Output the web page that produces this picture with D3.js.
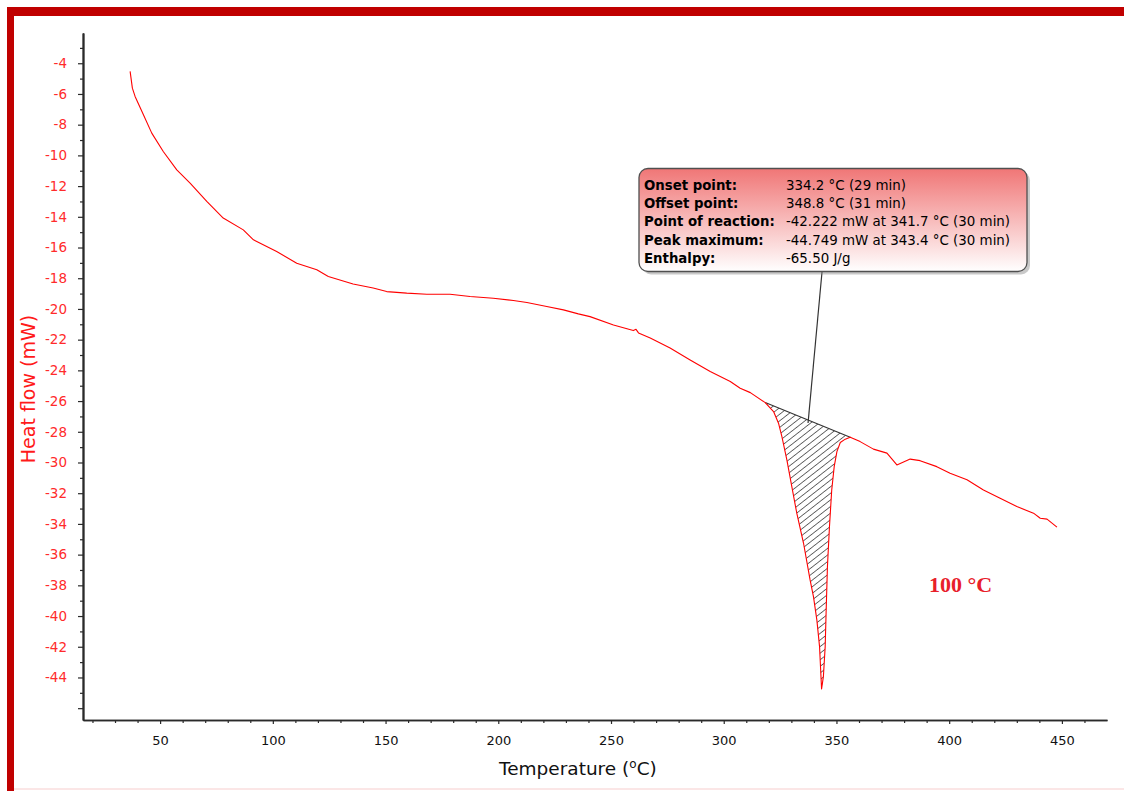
<!DOCTYPE html>
<html>
<head>
<meta charset="utf-8">
<script src="https://cdn.jsdelivr.net/npm/d3@7"></script>
<style>
  html, body { margin: 0; padding: 0; background: #ffffff; }
  svg { display: block; }
</style>
</head>
<body>
<svg id="chart" width="1124" height="791"></svg>
<script>
// ---- data ----
const temperature = [36.7, 37.7, 38.9, 42.6, 46.3, 51.4, 57.4, 63.3, 70.7, 78.0, 86.9, 91.4, 101.7, 110.6, 119.5, 124.6, 135.6, 144.5, 150.5, 159.4, 168.3, 178.6, 187.5, 197.8, 206.7, 212.7, 221.5, 228.9, 235.5, 240.7, 251.1, 259.9, 261.1, 262.2, 267.4, 276.2, 285.1, 294.0, 302.9, 307.3, 311.8, 318.4, 322.1, 324.3, 325.8, 328.0, 330.2, 332.4, 335.4, 338.3, 339.8, 341.3, 342.5, 343.4, 344.2, 345.0, 345.4, 346.0, 346.9, 347.9, 349.0, 350.2, 351.7, 353.9, 356.1, 360.5, 366.4, 372.4, 376.8, 382.7, 387.1, 394.5, 400.4, 407.9, 415.2, 422.6, 430.0, 437.4, 440.4, 443.4, 447.8];
const heatFlow = [-4.53, -5.62, -6.16, -7.36, -8.55, -9.75, -10.94, -11.80, -13.00, -14.08, -14.85, -15.50, -16.26, -17.02, -17.45, -17.89, -18.38, -18.64, -18.87, -18.97, -19.04, -19.04, -19.19, -19.30, -19.45, -19.58, -19.84, -20.06, -20.32, -20.50, -21.04, -21.41, -21.33, -21.56, -21.90, -22.55, -23.32, -24.08, -24.73, -25.16, -25.45, -26.10, -26.68, -27.44, -28.31, -29.83, -31.57, -33.30, -35.26, -37.65, -38.74, -40.25, -41.99, -44.75, -43.95, -41.99, -39.82, -36.78, -34.18, -31.79, -30.27, -29.29, -28.70, -28.48, -28.35, -28.64, -29.13, -29.39, -30.16, -29.78, -29.88, -30.27, -30.70, -31.13, -31.79, -32.33, -32.87, -33.30, -33.63, -33.69, -34.21];

// integration baseline (start / end of the peak)
const baselineT = [318.4, 356.1];
const baselineHF = [-26.10, -28.35];
const leaderT = 337.4; // where the annotation points on the baseline

const xMajorTicks = [50, 100, 150, 200, 250, 300, 350, 400, 450];
const xMinorTicks = [20, 30, 40, 60, 70, 80, 90, 110, 120, 130, 140, 160, 170, 180, 190, 210, 220, 230, 240, 260, 270, 280, 290, 310, 320, 330, 340, 360, 370, 380, 390, 410, 420, 430, 440, 460];
const yLabelTicks = [-4, -6, -8, -10, -12, -14, -16, -18, -20, -22, -24, -26, -28, -30, -32, -34, -36, -38, -40, -42, -44];
const yMajorUnlabeled = [-46];
const yMinorTicks = [-3, -5, -7, -9, -11, -13, -15, -17, -19, -21, -23, -25, -27, -29, -31, -33, -35, -37, -39, -41, -43, -45];

const xDomain = [15.8, 470];
const yDomain = [-46.77, -2.03];

const annotLabels = ["Onset point:", "Offset point:", "Point of reaction:", "Peak maximum:", "Enthalpy:"];
const annotValues = ["334.2 °C (29 min)", "348.8 °C (31 min)", "-42.222 mW at 341.7 °C (30 min)", "-44.749 mW at 343.4 °C (30 min)", "-65.50 J/g"];

const xTitle = "Temperature (";
const yTitle = "Heat flow (mW)";
const sampleLabel = "100 °C";

// ---- drawing ----
const svg = d3.select("#chart");
const FONT = "'DejaVu Sans', Verdana, sans-serif";

// frame
svg.append("rect").attr("x", 0).attr("y", 0).attr("width", 1124).attr("height", 791).attr("fill", "#ffffff");
svg.append("rect").attr("x", 14).attr("y", 788).attr("width", 1110).attr("height", 2).attr("fill", "#fbe6e6");
svg.append("rect").attr("x", 7).attr("y", 7).attr("width", 1117).attr("height", 9).attr("fill", "#c00000");
svg.append("rect").attr("x", 7).attr("y", 7).attr("width", 7).attr("height", 784).attr("fill", "#c00000");

const x = d3.scaleLinear().domain(xDomain).range([83, 1107]);
const y = d3.scaleLinear().domain(yDomain).range([720, 33]);

const data = temperature.map((t, i) => ({ t, v: heatFlow[i] }));

// hatch pattern
const defs = svg.append("defs");
const pat = defs.append("pattern")
  .attr("id", "hatch").attr("patternUnits", "userSpaceOnUse")
  .attr("width", 5.2).attr("height", 10)
  .attr("patternTransform", "rotate(52)");
pat.append("line").attr("x1", 0).attr("y1", 0).attr("x2", 0).attr("y2", 10)
  .attr("stroke", "#111").attr("stroke-width", 1.2);

const grad = defs.append("linearGradient").attr("id", "boxgrad")
  .attr("x1", 0).attr("y1", 0).attr("x2", 0).attr("y2", 1);
grad.append("stop").attr("offset", "0%").attr("stop-color", "#f07676");
grad.append("stop").attr("offset", "100%").attr("stop-color", "#ffffff");

// peak area polygon: curve points between baseline ends, closed by baseline
const peakPts = data.filter(d => d.t >= baselineT[0] && d.t <= baselineT[1]);
const areaPts = peakPts.concat([{ t: baselineT[1], v: baselineHF[1] }, { t: baselineT[0], v: baselineHF[0] }]);
svg.append("path")
  .attr("d", d3.line().x(d => x(d.t)).y(d => y(d.v))(areaPts) + "Z")
  .attr("fill", "url(#hatch)").attr("stroke", "none");

// baseline
svg.append("line")
  .attr("x1", x(baselineT[0])).attr("y1", y(baselineHF[0]))
  .attr("x2", x(baselineT[1])).attr("y2", y(baselineHF[1]))
  .attr("stroke", "#333").attr("stroke-width", 1.1);

// curve
svg.append("path")
  .datum(data)
  .attr("d", d3.line().x(d => x(d.t)).y(d => y(d.v)))
  .attr("fill", "none").attr("stroke", "#ff0000").attr("stroke-width", 1.1)
  .attr("stroke-linejoin", "round");

// axes
function styleAxis(g) {
  g.select(".domain").attr("stroke", "#2a2a2a").attr("stroke-width", 1.6);
  g.selectAll(".tick line").attr("stroke", "#2a2a2a").attr("stroke-width", 1.2);
}
const plainFmt = d => String(d);
const gx = svg.append("g").attr("transform", "translate(0,720)")
  .call(d3.axisBottom(x).tickValues(xMajorTicks).tickSize(4).tickSizeOuter(0).tickPadding(12).tickFormat(plainFmt));
styleAxis(gx);
gx.selectAll(".tick text").attr("font-family", FONT).attr("font-size", 13).attr("fill", "#111");
const gxm = svg.append("g").attr("transform", "translate(0,720)")
  .call(d3.axisBottom(x).tickValues(xMinorTicks).tickSize(3).tickSizeOuter(0).tickFormat(""));
styleAxis(gxm);

const gy = svg.append("g").attr("transform", "translate(83,0)")
  .call(d3.axisLeft(y).tickValues(yLabelTicks).tickSize(5).tickSizeOuter(0).tickPadding(11).tickFormat(plainFmt));
styleAxis(gy);
gy.selectAll(".tick text").attr("font-family", FONT).attr("font-size", 13.5).attr("fill", "#ff2b2b");
const gy2 = svg.append("g").attr("transform", "translate(83,0)")
  .call(d3.axisLeft(y).tickValues(yMajorUnlabeled).tickSize(5).tickSizeOuter(0).tickFormat(""));
styleAxis(gy2);
const gym = svg.append("g").attr("transform", "translate(83,0)")
  .call(d3.axisLeft(y).tickValues(yMinorTicks).tickSize(3).tickSizeOuter(0).tickFormat(""));
styleAxis(gym);

// axis titles
const xt = svg.append("text").attr("x", 499).attr("y", 775)
  .attr("font-family", FONT).attr("font-size", 18.5).attr("fill", "#111");
xt.append("tspan").text(xTitle);
xt.append("tspan").attr("font-size", 12).attr("dy", -7).text("o");
xt.append("tspan").attr("dy", 7).text("C)");

svg.append("text")
  .attr("transform", "translate(35,389) rotate(-90)")
  .attr("text-anchor", "middle")
  .attr("font-family", FONT).attr("font-size", 19).attr("fill", "#ff1a1a")
  .text(yTitle);

// sample label
svg.append("text").attr("x", 929).attr("y", 592)
  .attr("font-family", "'Liberation Serif', 'Times New Roman', serif")
  .attr("font-weight", "bold").attr("font-size", 22).attr("fill", "#e8202a")
  .text(sampleLabel);

// annotation leader line
const leadV = baselineHF[0] + (leaderT - baselineT[0]) / (baselineT[1] - baselineT[0]) * (baselineHF[1] - baselineHF[0]);
svg.append("line")
  .attr("x1", 822).attr("y1", 272)
  .attr("x2", x(leaderT)).attr("y2", y(leadV) + 3)
  .attr("stroke", "#333").attr("stroke-width", 1.2);

// annotation box
const bx = 639, by = 168.5, bw = 388, bh = 103;
svg.append("rect").attr("x", bx + 3).attr("y", by + 3).attr("width", bw).attr("height", bh)
  .attr("rx", 9).attr("fill", "#888").attr("opacity", 0.45);
svg.append("rect").attr("x", bx).attr("y", by).attr("width", bw).attr("height", bh)
  .attr("rx", 9).attr("fill", "url(#boxgrad)").attr("stroke", "#505050").attr("stroke-width", 1.3);

const rowY = i => 189.5 + i * 18.4;
svg.selectAll("text.alab").data(annotLabels).join("text").attr("class", "alab")
  .attr("x", 644).attr("y", (d, i) => rowY(i))
  .attr("font-family", FONT).attr("font-size", 13.3).attr("font-weight", "bold").attr("fill", "#000")
  .text(d => d);
svg.selectAll("text.aval").data(annotValues).join("text").attr("class", "aval")
  .attr("x", 786).attr("y", (d, i) => rowY(i))
  .attr("font-family", FONT).attr("font-size", 13.4).attr("fill", "#000")
  .text(d => d);
</script>
</body>
</html>
